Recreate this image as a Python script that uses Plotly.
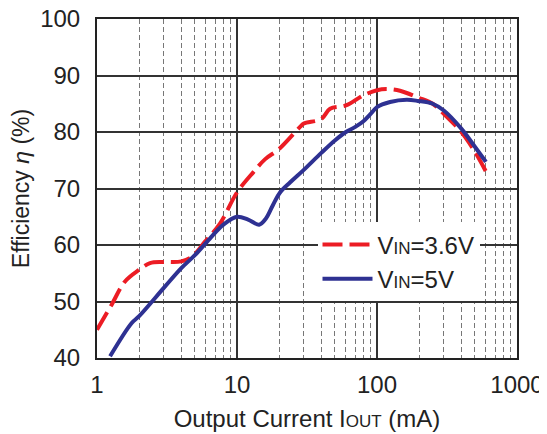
import plotly.graph_objects as go

# Data
iout_36 = [1, 1.27, 1.58, 2, 2.39, 3, 4, 4.75, 5.91, 7.56, 10, 13.1, 15.9, 20, 28.2, 30, 40, 46.2, 60, 80, 100, 117, 146, 196, 250, 300, 400, 500, 600]
eff_36 = [45.0, 49.4, 53.5, 55.6, 56.8, 57.0, 57.1, 57.9, 60.6, 63.8, 69.3, 72.9, 75.2, 77.0, 80.9, 81.5, 82.3, 84.1, 84.7, 86.5, 87.4, 87.6, 87.3, 86.1, 85.0, 83.2, 80.0, 76.5, 73.0]

iout_5 = [1.24, 1.77, 2, 3, 4, 5, 6.38, 8, 10, 12, 14.4, 16, 18, 20.3, 24, 30, 40, 50, 60, 70, 80, 90, 100, 124, 163, 196, 250, 300, 400, 500, 600]
eff_5 = [40.3, 46.2, 47.4, 52.4, 55.9, 58.2, 61.1, 63.6, 65.0, 64.5, 63.6, 64.6, 67.0, 69.3, 71.1, 73.3, 76.3, 78.5, 80.0, 80.9, 81.9, 83.2, 84.4, 85.3, 85.7, 85.5, 85.0, 83.8, 80.6, 77.4, 74.7]

x_ticks = [1, 10, 100, 1000]
x_ticktext = ["1", "10", "100", "1000"]
y_ticks = [40, 50, 60, 70, 80, 90, 100]
minor_ticks = [m * d for d in (1, 10, 100) for m in range(2, 10)]

FONT = "Liberation Sans, Arial, sans-serif"
RED = "#EC1C24"
BLUE = "#2E3192"

fig = go.Figure()
fig.add_trace(go.Scatter(
    x=iout_36, y=eff_36, mode="lines", line_shape="spline",
    name="V<span style='font-size:17px'>IN</span>=3.6V",
    line=dict(color=RED, width=4, dash="20px,7px"),
))
fig.add_trace(go.Scatter(
    x=iout_5, y=eff_5, mode="lines", line_shape="spline",
    name="V<span style='font-size:17px'>IN</span>=5V",
    line=dict(color=BLUE, width=4),
))

fig.update_layout(
    width=539, height=426,
    margin=dict(l=89, r=30, t=11, b=76, autoexpand=False),
    paper_bgcolor="white", plot_bgcolor="white",
    font=dict(family=FONT, size=24, color="#222"),
    showlegend=True,
    legend=dict(
        x=0.525, y=0.40, xanchor="left", yanchor="top",
        bgcolor="white", borderwidth=0,
        font=dict(size=24, color="#222"),
        itemwidth=50, tracegroupgap=0,
    ),
    xaxis=dict(
        type="log", range=[0, 3], automargin=False,
        tickvals=x_ticks, ticktext=x_ticktext,
        ticks="", ticklabelstandoff=4, ticklabeloverflow="allow",
        showgrid=True, gridcolor="#333", gridwidth=1.5,
        showline=True, linecolor="#222", linewidth=2, mirror=True,
        zeroline=False,
        minor=dict(tickvals=minor_ticks, showgrid=True, gridcolor="#777",
                   gridwidth=1, griddash="5px,3px", ticks=""),
        title=dict(text="Output Current I<span style='font-size:17px'>OUT</span> (mA)",
                   font=dict(size=24), standoff=13),
    ),
    yaxis=dict(
        range=[40, 100], tickvals=y_ticks, automargin=False,
        ticks="", ticklabelstandoff=10, ticklabeloverflow="allow",
        showgrid=True, gridcolor="#333", gridwidth=1.5,
        showline=True, linecolor="#222", linewidth=2, mirror=True,
        zeroline=False,
        title=dict(text="Efficiency <i>η</i> (%)", font=dict(size=23), standoff=12),
    ),
)

fig.write_html("out.html")
